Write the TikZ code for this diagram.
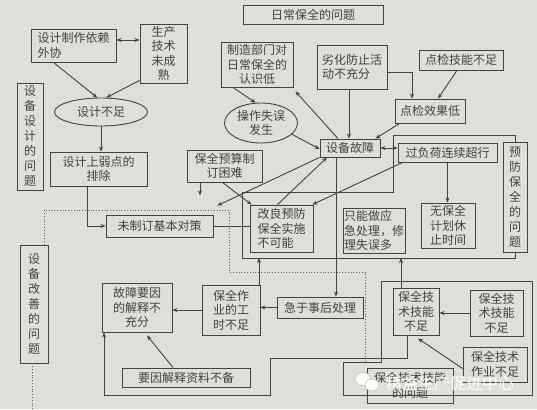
\documentclass[tikz,border=0pt]{standalone}
\usepackage{fontspec}
\newfontfamily\cjk{Noto Sans CJK SC}
\usetikzlibrary{arrows.meta,shapes.geometric}
\definecolor{bg}{RGB}{223,222,216}
\definecolor{ink}{RGB}{66,66,64}
\begin{document}
\begin{tikzpicture}[x=1pt,y=-1pt,
  every node/.style={font=\cjk\fontsize{12}{14.5}\selectfont, text=ink, inner sep=0pt},
  bx/.style={draw=ink, line width=0.9pt, align=center},
  lbx/.style={draw=ink, line width=0.9pt, align=left},
  vbx/.style={draw=ink, line width=0.9pt, align=center, font=\cjk\fontsize{12}{15}\selectfont},
  el/.style={draw=ink, line width=0.9pt, ellipse, align=center},
  ln/.style={draw=ink, line width=0.9pt},
  ar/.style={ln, -{Stealth[length=5pt,width=4pt]}},
  dar/.style={ln, {Stealth[length=5pt,width=4pt]}-{Stealth[length=5pt,width=4pt]}},
  dotl/.style={draw=ink!85, line width=0.8pt, dotted}
]
\fill[bg] (0,0) rectangle (537,409);
\useasboundingbox (0,0) rectangle (537,409);

% ---------- nodes ----------
\node[bx, minimum width=140, minimum height=19] (title) at (313,14.5) {日常保全的问题};
\node[lbx, minimum width=85, minimum height=33] (wai) at (73.5,45.5) {设计制作依赖\\外协};
\node[bx, minimum width=47, minimum height=59] (sc) at (163.5,53.5) {生产\\技术\\未成\\熟};
\node[el, minimum width=93, minimum height=28] (sjbz) at (101,112) {设计不足};
\node[vbx, minimum width=26, minimum height=107] (sjwt) at (30,136.5) {设\\备\\设\\计\\的\\问\\题};
\node[bx, minimum width=97, minimum height=34] (rd) at (98.5,169) {设计上弱点的\\排除};
\node[bx, minimum width=107, minimum height=22] (wzd) at (159.5,226) {未制订基本对策};
\node[bx, minimum width=72, minimum height=45] (zz) at (257,64.5) {制造部门对\\日常保全的\\认识低};
\node[lbx, minimum width=70, minimum height=44] (lh) at (352,67) {劣化防止活\\动不充分};
\node[bx, minimum width=84, minimum height=20] (jn) at (461,60) {点检技能不足};
\node[bx, minimum width=70, minimum height=24] (dx) at (430,111) {点检效果低};
\node[el, minimum width=73, minimum height=40] (czsw) at (261,123) {操作失误\\发生};
\node[bx, minimum width=60, minimum height=18] (gz) at (350,148) {设备故障};
\node[bx, minimum width=99, minimum height=19] (gfh) at (447.5,152.5) {过负荷连续超行};
\node[vbx, minimum width=24, minimum height=110] (yf) at (515,197) {预\\防\\保\\全\\的\\问\\题};
\node[bx, minimum width=75, minimum height=32] (ys) at (224.5,166) {保全预算制\\订困难};
\node[lbx, minimum width=63, minimum height=47] (gl) at (281.5,228.5) {改良预防\\保全实施\\不可能};
\node[lbx, minimum width=62, minimum height=45] (yj) at (374,230.5) {只能做应\\急处理，修\\理失误多};
\node[bx, minimum width=54, minimum height=45] (wbq) at (448,225.5) {无保全\\计划休\\止时间};
\node[bx, minimum width=86, minimum height=21] (jy) at (320,307.5) {急于事后处理};
\node[bx, minimum width=58, minimum height=50] (zy) at (231,310) {保全作\\业的工\\时不足};
\node[bx, minimum width=70, minimum height=49] (gy) at (137,307.5) {故障要因\\的解释不\\充分};
\node[bx, minimum width=128, minimum height=19] (zl) at (186,377.5) {要因解释资料不备};
\node[bx, minimum width=46, minimum height=47] (jl) at (416,311.5) {保全技\\术技能\\不足};
\node[bx, minimum width=53, minimum height=46] (jr) at (496.5,313) {保全技\\术技能\\不足};
\node[bx, minimum width=64, minimum height=35] (zb) at (495,364.5) {保全技术\\作业不足};
\node[bx, minimum width=86, minimum height=35] (jw) at (410,385.5) {保全技术技能\\的问题};
\node[vbx, minimum width=28, minimum height=118] (gs) at (34,304) {设\\备\\改\\善\\的\\问\\题};

% ---------- frame coordinates ----------
\coordinate (f1) at (393,135);
\coordinate (f3) at (242,192);
\coordinate (fbot) at (242,258);
\coordinate (p2) at (229,210);
\coordinate (p4) at (365,272);
\coordinate (p5) at (365,362);
\coordinate (p6) at (32,409);
\coordinate (d1) at (270,358);
\coordinate (d2) at (104,395);
\coordinate (q1) at (381,281);
\coordinate (q2) at (532,395);
\coordinate (q3) at (343,362);

% ---------- frames ----------
\draw[ln] (yf.north) |- (f1) |- (f3) |- (fbot) -| (yf.south);
\draw[dotl] ([xshift=10]gs.north) |- (p2) |- (p4) -- (p5);
\draw[dotl] ([xshift=-2]gs.south) -- (gs.south -| p6) -- (p6);
\draw[ln] (q3 -| jw.west) -| (q1) -| (q2) -| (q3) -- (q3 -| jw.west);

% ---------- connectors ----------
\draw[dar] (wai.east |- 0,40) -- (sc.west |- 0,40);
\draw[ar] ([xshift=-20]wai.south) -- (sjbz.105);
\draw[ar] ([yshift=3]sc.south west) -- (sjbz.70);
\draw[ar] (sjbz.south) -- (sjbz.south |- rd.north);
\draw[ar] ([xshift=-11.5]rd.south) |- (wzd.west);
\draw[ln] (wzd.east) -- (wzd.east -| gl.west);
\draw[ar] ([xshift=-24]zz.south) -- (czsw.105);
\draw[ar] (czsw.-20) -- ([yshift=-1]gz.west);
\draw[ar] ([xshift=-12]gz.north) -- ([xshift=2,yshift=-4]zz.south east);
\draw[ar] ([xshift=-3]lh.south) -- ([xshift=-3]lh.south |- gz.north);
\draw[ar] ([yshift=-5]lh.east) -| ([xshift=-18]dx.north);
\draw[ar] ([xshift=-4]jn.south) -- ([xshift=8]dx.north);
\draw[ar] ([xshift=5]dx.south west) -- ([xshift=-5]gz.north east);
\draw[dar] (gz.east) -- (gz.east -| gfh.west);
\draw[ar] (gfh.south) -- (gfh.south |- wbq.north);
\draw[ar] ([xshift=5]gfh.south west) -- ([xshift=-1]gl.north east);
\draw[ar] ([xshift=-4]gl.north) -- ([xshift=-23]gz.south);
\draw[ar] (gz.south west) -- ([xshift=4,yshift=9]wzd.north east);
\draw[ar] ([xshift=-24.5]ys.south) -- ([xshift=-24.5,yshift=-13]ys.south);
\draw[ar] ([xshift=-2]ys.south) -- ([xshift=2]gl.north west);
\draw[ar] ([xshift=-14]gz.south) -- ([xshift=-14]gz.south |- jy.north);
\draw[ar] (jy.west) -- (jy.west -| zy.east);
\draw[ar] ([xshift=28]zy.north) -- ([xshift=28]zy.north |- fbot);
\draw[ar] (zy.west) -- (zy.west -| gy.east);
\draw[ar] ([xshift=-13]zl.north) -- ([xshift=10,yshift=-3]gy.south);
\draw[ar] ([xshift=-15]jl.north) -- ([xshift=-15]jl.north |- fbot);
\draw[ar] (jr.west) -- (jr.west -| jl.east);
\draw[ar] ([yshift=-4]zb.west) -- ([xshift=2,yshift=-3]jl.south);
\draw[ar] ([xshift=-9]jl.south) |- (d1) |- (d2) -- (d2 |- gy.south);

% ---------- watermark ----------
\fill[white, draw=gray!60] (363,379) ellipse (8 and 6.5);
\fill[white, draw=gray!60] (372,385) ellipse (7 and 6);
\node[text=white, font=\cjk\fontsize{16}{16}\selectfont, anchor=west] (wm) at (386,383) {精益生产促进中心};
\end{tikzpicture}
\end{document}
